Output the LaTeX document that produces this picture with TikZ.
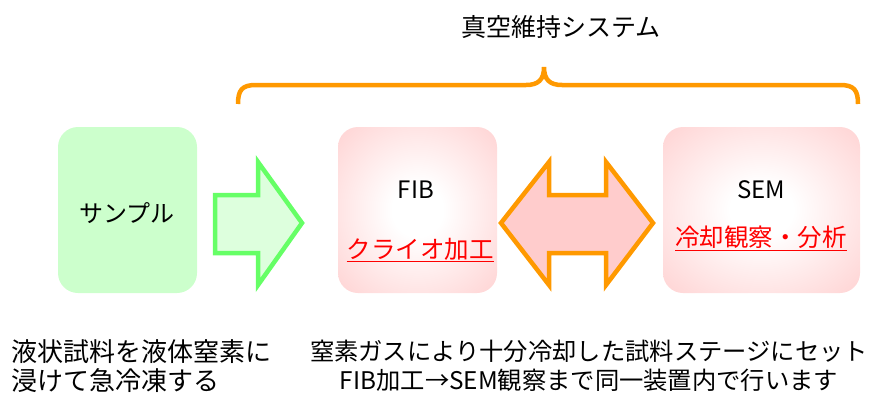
\documentclass[tikz,border=0pt]{standalone}
\usepackage{fontspec}
\setmainfont{Noto Sans CJK JP}
\definecolor{boxgreen}{HTML}{CCFFCC}
\definecolor{arrgreen}{HTML}{66FF66}
\definecolor{arrgreenfill}{HTML}{DDFFDD}
\definecolor{pinkc}{HTML}{FFCCCC}
\definecolor{orangec}{HTML}{FF9900}
\definecolor{redtext}{HTML}{FF0000}
\pgfdeclareradialshading{pinkglow}{\pgfpoint{0bp}{0bp}}{color(0bp)=(white); color(8bp)=(white); color(40bp)=(pinkc); color(100bp)=(pinkc)}
\begin{document}
\begin{tikzpicture}[x=1pt,y=-1pt,
  txt/.style={font=\fontsize{24}{28}\selectfont, inner sep=0pt},
  bigtxt/.style={font=\fontsize{25}{29}\selectfont, inner sep=0pt},
  redlbl/.style={font=\fontsize{24.5}{28}\selectfont, inner sep=0pt, text=redtext},
  samplebox/.style={rectangle, rounded corners=20pt, fill=boxgreen, minimum height=166pt, inner sep=0pt},
  glowbox/.style={rectangle, rounded corners=20pt, shading=pinkglow, minimum height=166pt, inner sep=0pt},
  fatarrow/.style={line width=4.5pt, line join=miter, miter limit=10},
]
\useasboundingbox (0,0) rectangle (869,394);

% boxes
\node[samplebox, minimum width=139pt] (sample) at (127.5,210) {};
\node[glowbox, minimum width=159pt] (fib) at (417.5,210) {};
\node[glowbox, minimum width=197pt] (sem) at (761.5,210) {};

% labels in boxes
\node[txt] (sampletxt) at (127,213) {サンプル};
\node[txt] (fibtxt) at (416,190) {FIB};
\node[redlbl] (cryo) at (420,250) {\underline{クライオ加工}};
\node[txt] (semtxt) at (761,190) {SEM};
\node[redlbl] (cool) at (761,238) {\underline{冷却観察・分析}};

% green arrow
\draw[fatarrow, draw=arrgreen, fill=arrgreenfill]
  (215,195) -- (258,195) -- (258,162) -- (302,223) -- (258,285) -- (258,253) -- (215,253) -- cycle;

% double arrow
\draw[fatarrow, draw=orangec, fill=pinkc]
  (501,223) -- (549,162) -- (549,195) -- (606,195) -- (606,162) -- (653,223)
  -- (606,285) -- (606,253) -- (549,253) -- (549,285) -- cycle;

% brace
\coordinate (bl) at (238,104);
\coordinate (br) at (858,104);
\coordinate (btip) at (544,67);
\draw[draw=orangec, line width=4.5pt, line cap=butt]
  (bl) .. controls (238,90) and (242,85) .. (256,85) -- (526,85)
  .. controls (538,85) and (544,80) .. (btip)
  .. controls (544,80) and (550,85) .. (562,85) -- (840,85)
  .. controls (854,85) and (858,90) .. (br);

% title
\node[bigtxt] (title) at (561,27) {真空維持システム};

% bottom texts
\node[font=\fontsize{26}{29}\selectfont, inner sep=0pt, anchor=north west, align=left] (lefttxt) at (11,339) {液状試料を液体窒素に\\浸けて急冷凍する};
\node[font=\fontsize{24.3}{29}\selectfont, inner sep=0pt, anchor=north, align=center] (righttxt) at (589,340) {窒素ガスにより十分冷却した試料ステージにセット\\FIB加工→SEM観察まで同一装置内で行います};
\end{tikzpicture}
\end{document}
